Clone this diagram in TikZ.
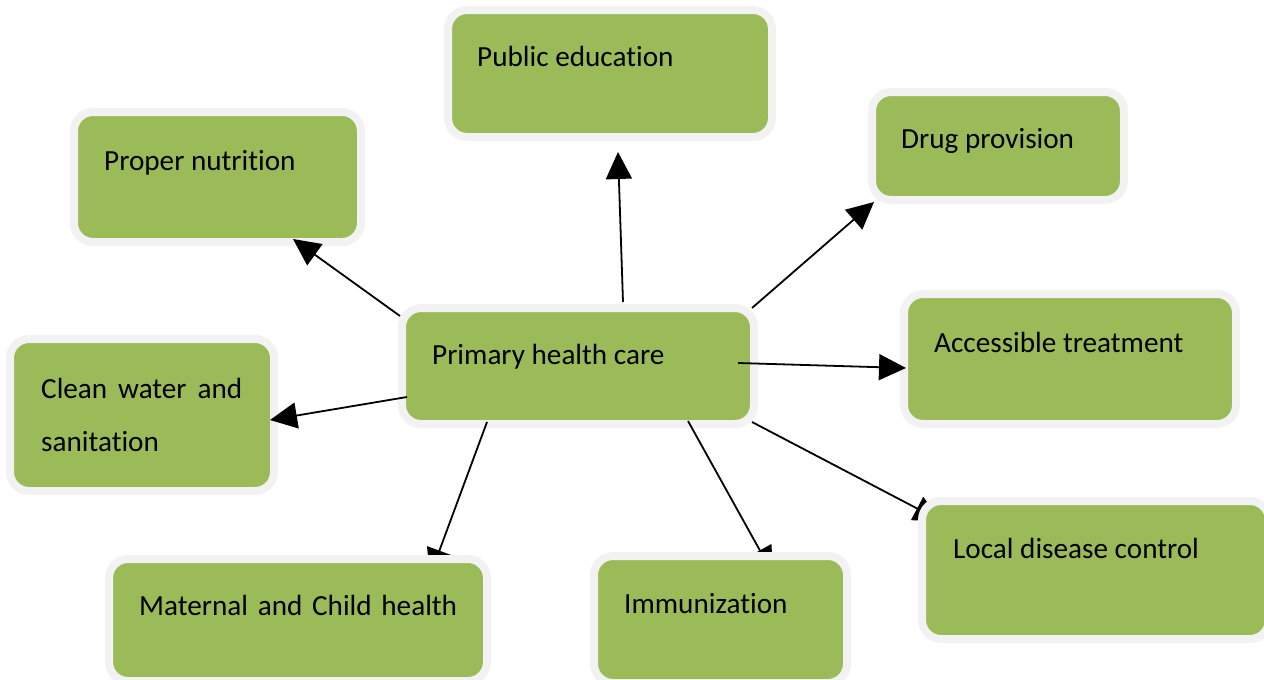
\documentclass[tikz,border=0pt]{standalone}
\usepackage{fontspec}
\setmainfont[Ligatures=NoCommon]{Carlito}
\usetikzlibrary{arrows.meta}
\definecolor{boxgreen}{HTML}{9BBB59}
\definecolor{boxgray}{HTML}{F2F2F2}
\tikzset{
  gbox/.style={draw=boxgray, line width=8pt, fill=boxgreen, rounded corners=19pt, inner sep=0pt},
  lbl/.style={anchor=base west, inner sep=0pt, font=\fontsize{29.2}{35}\selectfont, text=black},
  conn/.style={draw=black, line width=1.8pt, -{Triangle[length=27pt,width=26pt]}}
}
\begin{document}
\begin{tikzpicture}[x=1pt,y=-1pt]
\useasboundingbox (0,0) rectangle (1264,680);
\clip (0,0) rectangle (1264,680);
% upper / side boxes
\node[gbox, minimum width=352pt, minimum height=116pt] (phc) at (578,366) {};
\node[gbox, minimum width=324pt, minimum height=127pt] (pub) at (610,73.5) {};
\node[gbox, minimum width=287pt, minimum height=130pt] (nut) at (217.5,177) {};
\node[gbox, minimum width=252pt, minimum height=108pt] (drug) at (998,146) {};
\node[gbox, minimum width=264pt, minimum height=152pt] (clean) at (142,415) {};
\node[gbox, minimum width=332pt, minimum height=130pt] (acc) at (1070,359) {};
% connector end points
\coordinate (s1) at (400,316);  \coordinate (e1) at (293,239);
\coordinate (s2) at (623,302);  \coordinate (e2) at (618,152);
\coordinate (s3) at (752,308);  \coordinate (e3) at (874,202);
\coordinate (s4) at (738,363);  \coordinate (e4) at (906,368);
\coordinate (s5) at (407,397);  \coordinate (e5) at (270,420);
\coordinate (s6) at (487,422);  \coordinate (e6) at (430,576);
\coordinate (s7) at (688,421);  \coordinate (e7) at (773,574);
\coordinate (s8) at (752,422);  \coordinate (e8) at (941,521);
\draw[conn] (s1) -- (e1);
\draw[conn] (s2) -- (e2);
\draw[conn] (s3) -- (e3);
\draw[conn] (s4) -- (e4);
\draw[conn] (s5) -- (e5);
\draw[conn] (s6) -- (e6);
\draw[conn] (s7) -- (e7);
\draw[conn] (s8) -- (e8);
% lower boxes (cover arrow tips)
\node[gbox, minimum width=378pt, minimum height=122pt] (mat) at (298,620) {};
\node[gbox, minimum width=253pt, minimum height=127pt] (imm) at (720.5,619.5) {};
\node[gbox, minimum width=347pt, minimum height=138pt] (loc) at (1095.5,570) {};
% labels
\node[lbl] (tpub) at (477,66) {Public education};
\node[lbl] (tnut) at (104,170) {Proper nutrition};
\node[lbl] (tdrug) at (901,148) {Drug provision};
\node[lbl] (tphc) at (432,364) {Primary health care};
\node[lbl] (tclean1) at (41,398) {\hbox to 201pt{Clean\hfill water\hfill and}};
\node[lbl] (tclean2) at (41,451) {sanitation};
\node[lbl] (tacc) at (934,352) {Accessible treatment};
\node[lbl] (tmat) at (139,615) {\hbox to 318pt{Maternal\hfill and\hfill Child\hfill health}};
\node[lbl] (timm) at (624,613) {Immunization};
\node[lbl] (tloc) at (953,558) {Local disease control};
\end{tikzpicture}
\end{document}
